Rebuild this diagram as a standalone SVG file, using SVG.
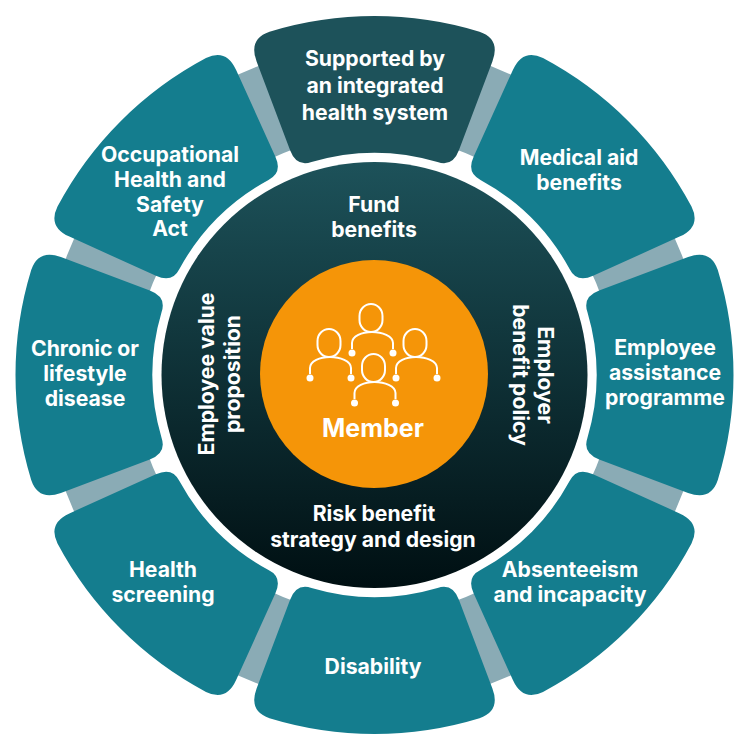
<svg xmlns="http://www.w3.org/2000/svg" xmlns:xlink="http://www.w3.org/1999/xlink" width="750" height="750" viewBox="0 0 750 750">
<style>
text{font-family:"Inter","Open Sans","Liberation Sans",sans-serif;font-weight:700;fill:#fff;text-anchor:middle;font-size:21.2px}
.seg{fill:#147D8E}
.bar{fill:none;stroke:#8AABB5;stroke-width:90}
.p{fill:none;stroke:#fff;stroke-width:2}
.d{fill:#fff}
</style>
<defs>
<linearGradient id="core" x1="0" y1="0" x2="0" y2="1"><stop offset="0" stop-color="#1D525A"/><stop offset="1" stop-color="#000F12"/></linearGradient>
<path id="shape" d="M-117.9,-313.6 Q-126.3,-336.1 -105,-343.3 A359,359 0 0 1 105,-343.3 Q126.3,-336.1 117.9,-313.6 L84.4,-224.7 Q78.1,-207.8 63,-212.9 A222,222 0 0 0 -63,-212.9 Q-78.1,-207.8 -84.4,-224.7 Z"/>
<path id="arc" class="bar" d="M-29.8,-283.4 A285,285 0 0 1 29.8,-283.4"/>
<g id="person">
<rect x="359.5" y="304" width="23" height="28" rx="11.5" ry="12" class="p"/>
<path class="p" d="M352,349 V343 C352,336 362,332 372,332 C382,332 393,336 393,343 V349"/>
<circle cx="352" cy="353" r="3.5" class="d"/><circle cx="393" cy="353" r="3.5" class="d"/>
</g>
</defs>
<g id="connectors" transform="translate(374.5 375)">
<use xlink:href="#arc" transform="rotate(22.5)"/><use xlink:href="#arc" transform="rotate(67.5)"/><use xlink:href="#arc" transform="rotate(112.5)"/><use xlink:href="#arc" transform="rotate(157.5)"/><use xlink:href="#arc" transform="rotate(202.5)"/><use xlink:href="#arc" transform="rotate(247.5)"/><use xlink:href="#arc" transform="rotate(292.5)"/><use xlink:href="#arc" transform="rotate(337.5)"/>
</g>
<g id="n-integrated"><use xlink:href="#shape" transform="translate(374.5 375)" style="fill:#1D525A"/><text x="375" y="66">Supported by</text><text x="375" y="93">an integrated</text><text x="375" y="120">health system</text></g>
<g id="n-medical"><use xlink:href="#shape" class="seg" transform="translate(374.5 375) rotate(45)"/><text x="579" y="165">Medical aid</text><text x="579" y="190">benefits</text></g>
<g id="n-assistance"><use xlink:href="#shape" class="seg" transform="translate(374.5 375) rotate(90)"/><text x="665" y="355">Employee</text><text x="665" y="380">assistance</text><text x="665" y="405">programme</text></g>
<g id="n-absenteeism"><use xlink:href="#shape" class="seg" transform="translate(374.5 375) rotate(135)"/><text x="570" y="577">Absenteeism</text><text x="570" y="602">and incapacity</text></g>
<g id="n-disability"><use xlink:href="#shape" class="seg" transform="translate(374.5 375) rotate(180)"/><text x="373" y="674">Disability</text></g>
<g id="n-screening"><use xlink:href="#shape" class="seg" transform="translate(374.5 375) rotate(225)"/><text x="163" y="577">Health</text><text x="163" y="602">screening</text></g>
<g id="n-chronic"><use xlink:href="#shape" class="seg" transform="translate(374.5 375) rotate(270)"/><text x="85" y="356">Chronic or</text><text x="85" y="381">lifestyle</text><text x="85" y="406">disease</text></g>
<g id="n-occupational"><use xlink:href="#shape" class="seg" transform="translate(374.5 375) rotate(315)"/><text x="170" y="162">Occupational</text><text x="170" y="187">Health and</text><text x="170" y="212">Safety</text><text x="170" y="236">Act</text></g>
<g id="n-core"><circle cx="374.5" cy="375" r="213" fill="url(#core)"/>
<text x="374" y="212">Fund</text><text x="374" y="237">benefits</text>
<text x="374" y="521">Risk benefit</text><text x="373" y="547">strategy and design</text>
<text transform="translate(214 374) rotate(-90)">Employee value</text><text transform="translate(240 374) rotate(-90)">proposition</text>
<text transform="translate(538 375) rotate(90)">Employer</text><text transform="translate(513 375) rotate(90)">benefit policy</text></g>
<g id="n-member"><circle cx="374" cy="374" r="114" fill="#F59508"/>
<use xlink:href="#person"/><use xlink:href="#person" transform="translate(-42 25)"/><use xlink:href="#person" transform="translate(44 25)"/><use xlink:href="#person" transform="translate(2.5 50)"/>
<text x="373" y="437" style="font-size:25px">Member</text></g>
</svg>
